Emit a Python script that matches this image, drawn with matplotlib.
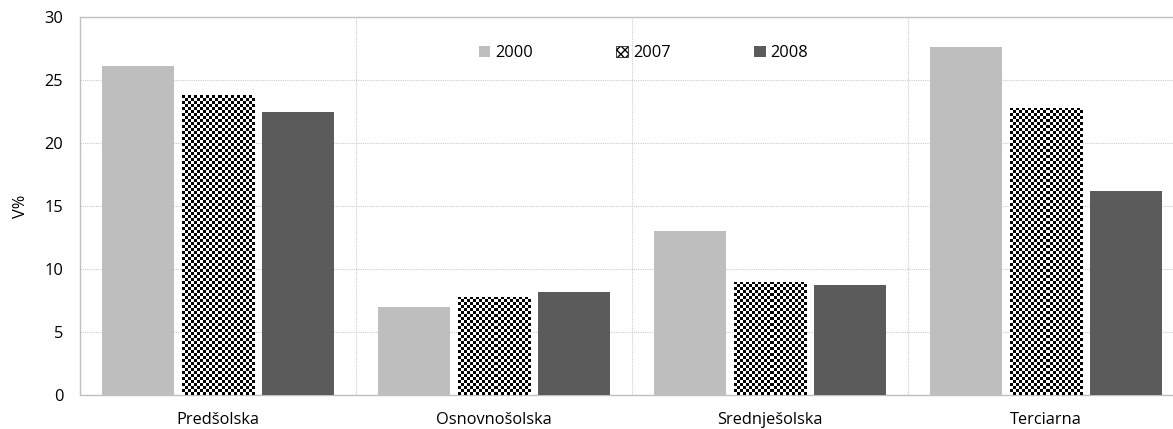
import numpy as np
import matplotlib
matplotlib.use("Agg")
import matplotlib.pyplot as plt
from matplotlib.patches import Patch

plt.rcParams['font.family'] = ['Open Sans', 'DejaVu Sans']

categories = ["Predšolska", "Osnovnošolska", "Srednješolska", "Terciarna"]
years = ["2000", "2007", "2008"]
v2000 = [26.1, 7.0, 13.0, 27.6]
v2007 = [23.8, 7.8, 9.0, 22.8]
v2008 = [22.5, 8.2, 8.7, 16.2]
yticks = [0, 5, 10, 15, 20, 25, 30]

fs = 11.8
fig = plt.figure(figsize=(11.73, 4.29), dpi=100)
ax = fig.add_axes([80/1173, 1-395/429, 1-80/1173, (395-17)/429])

x = np.arange(len(categories))
w = 0.262
off = 0.29
b1 = ax.bar(x - off, v2000, w, color="#bebebe", zorder=3)
b2 = ax.bar(x, v2007, w, color="white", zorder=3)
b3 = ax.bar(x + off, v2008, w, color="#5b5b5b", zorder=3)

xl = (-0.5, -0.5 + (1173-80)/276)
ax.set_xlim(*xl)
ax.set_ylim(0, 30)
ax.set_yticks(yticks)
ax.set_yticklabels([str(t) for t in yticks], fontsize=fs)
ax.set_xticks(x)
ax.set_xticklabels(categories, fontsize=fs)
ax.set_xticks(x[:-1] + 0.5, minor=True)
ax.tick_params(axis='both', which='both', length=0)
ax.tick_params(axis='x', pad=12)
ax.tick_params(axis='y', pad=12)
ax.grid(axis='y', which='major', linestyle=(0, (1, 1)), color="#cccccc", linewidth=0.8, zorder=0)
ax.grid(axis='x', which='minor', linestyle=(0, (1, 1)), color="#cccccc", linewidth=0.8, zorder=0)
for s in ['left', 'bottom', 'top']:
    ax.spines[s].set_color("#c0c0c0")
    ax.spines[s].set_linewidth(1.0)
ax.spines['right'].set_visible(False)
ax.set_ylabel("V%", fontsize=fs, labelpad=11)

# checkerboard fill for 2007 bars
fig.canvas.draw()
cell_px = 3.0
for bar in b2:
    bx, by = bar.get_x(), bar.get_y()
    bw, bh = bar.get_width(), bar.get_height()
    p0 = ax.transData.transform((bx, by))
    p1 = ax.transData.transform((bx + bw, by + bh))
    nx = max(1, int(round(abs(p1[0]-p0[0]) / cell_px)))
    ny = max(1, int(round(abs(p1[1]-p0[1]) / cell_px)))
    board = (np.indices((ny, nx)).sum(axis=0) % 2).astype(float)
    im = ax.imshow(board, cmap="gray", extent=(bx, bx + bw, by, by + bh),
                   interpolation="nearest", aspect="auto", zorder=3.5, vmin=0, vmax=1)
    im.set_clip_path(bar)
ax.set_xlim(*xl)
ax.set_ylim(0, 30)

handles = [Patch(facecolor="#bebebe"),
           Patch(facecolor="white", edgecolor="black", hatch="xxxx", linewidth=0.5),
           Patch(facecolor="#5b5b5b")]
ax.legend(handles, years, loc="upper center", bbox_to_anchor=(0.5155, 0.965), ncol=3,
          frameon=False, fontsize=fs, handlelength=0.7, handleheight=0.7,
          handletextpad=0.3, columnspacing=5.1)

fig.savefig("out.png", dpi=100)
